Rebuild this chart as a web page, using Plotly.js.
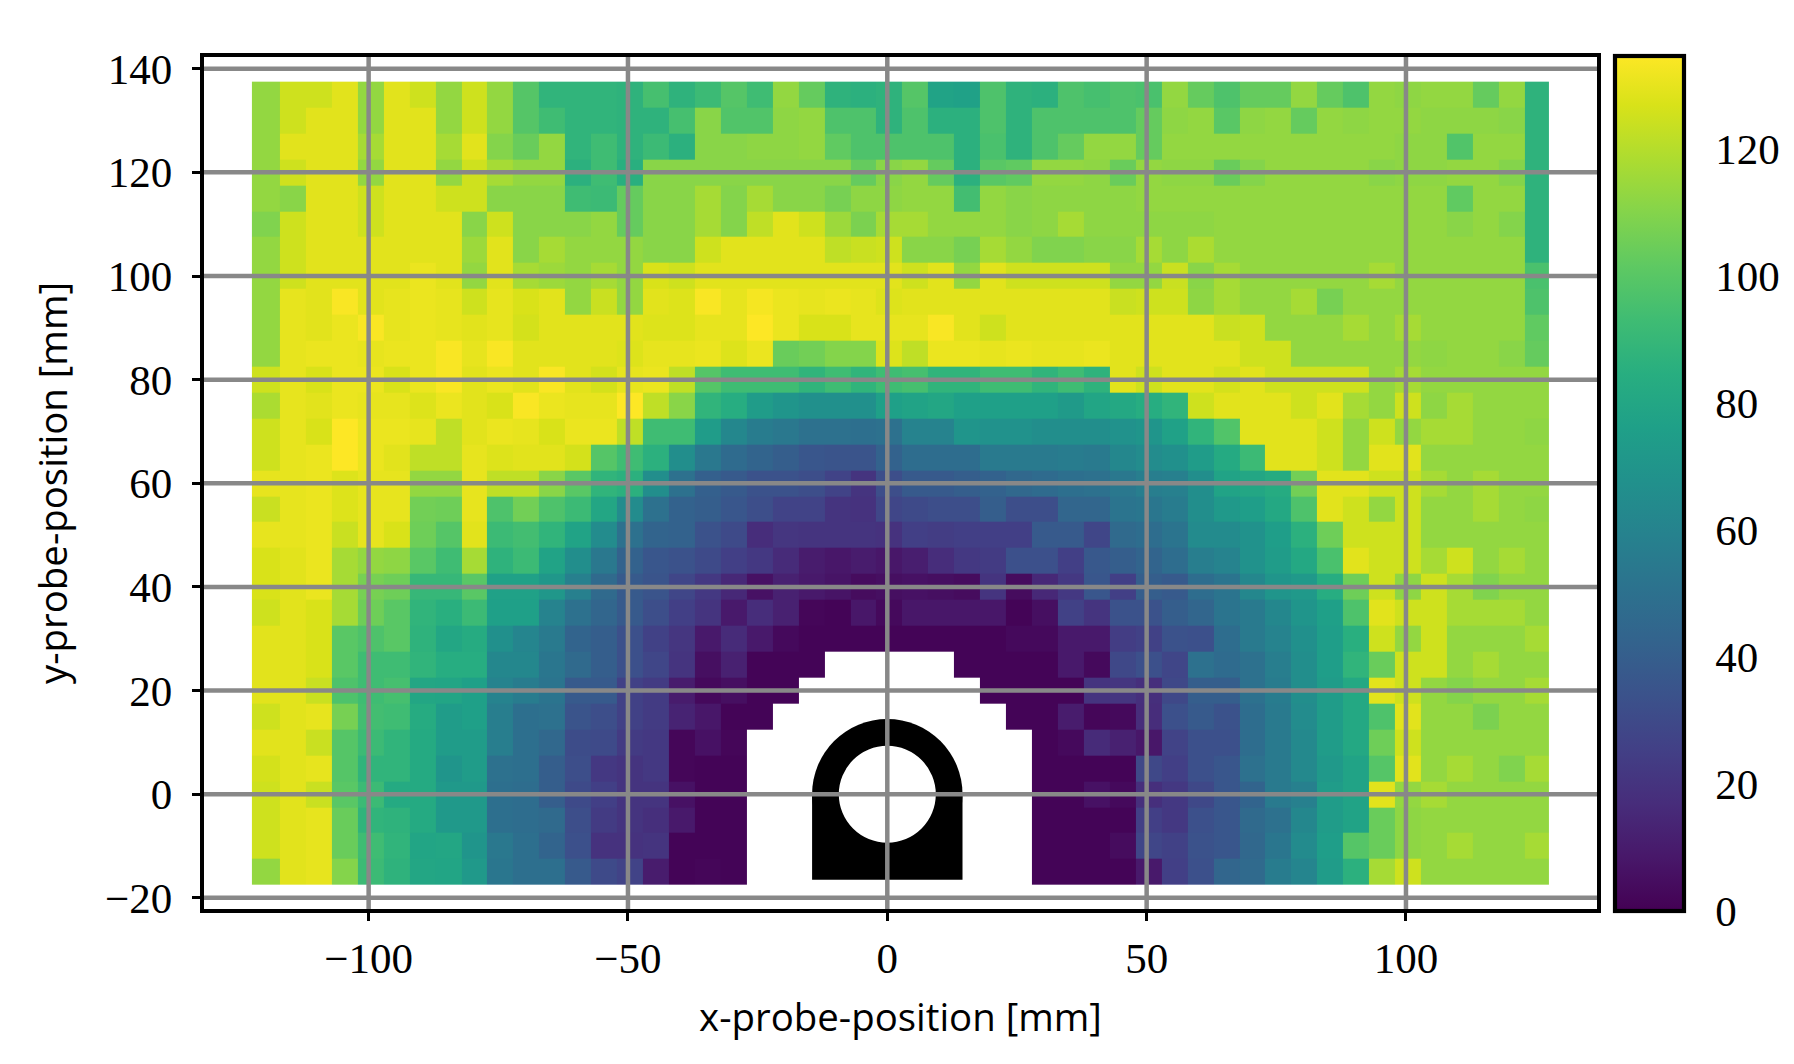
<!DOCTYPE html>
<html><head><meta charset="utf-8">
<script src="https://cdn.plot.ly/plotly-3.0.1.min.js"></script>
<style>html,body{margin:0;padding:0;background:#fff}#plot{width:1794px;height:1064px}</style>
</head><body><div id="plot"></div>
<script>
const _ = null;
const xEdges = [-122.5].concat(Array.from({length:49},(v,i)=>-117.1+5*i),[127.6]);
const yCenters = [135,130,125,120,115,110,105,100,95,90,85,80,75,70,65,60,55,50,45,40,35,30,25,20,15,10,5,0,-5,-10,-15];
const z = [
[113,125,125,129,113,129,125,113,125,113,99,88,88,88,87,95,87,92,99,93,113,103,87,86,87,99,78,77,97,87,86,97,95,97,96,113,103,97,103,103,113,103,97,113,112,113,113,103,113,87],
[113,125,129,129,113,129,129,113,125,113,99,93,88,88,87,87,95,111,98,98,112,113,97,97,87,97,86,86,97,87,97,97,97,97,103,112,113,100,112,113,103,113,112,113,113,112,112,112,111,87],
[113,129,129,129,117,129,129,117,129,110,104,113,88,93,87,92,86,111,111,112,112,113,102,97,97,97,97,86,96,87,97,103,113,113,103,113,113,113,113,113,113,113,113,113,112,112,98,113,113,87],
[113,125,129,129,113,129,129,113,125,117,113,113,86,93,85,111,111,111,111,111,111,111,111,103,111,113,103,86,100,102,113,113,112,104,113,112,112,104,110,113,113,113,113,111,112,112,113,113,110,87],
[113,111,129,129,125,129,129,125,125,111,111,111,93,92,103,111,111,117,110,117,111,111,107,112,112,113,113,94,113,111,112,112,112,112,113,113,113,113,113,113,113,113,113,113,113,113,102,113,113,87],
[109,125,129,129,125,129,129,129,111,125,111,111,111,113,103,111,111,117,110,122,129,125,115,108,117,117,113,113,113,111,112,117,112,112,112,112,112,113,113,113,113,113,113,113,113,113,111,113,110,87],
[113,125,129,129,129,129,129,129,115,129,111,117,113,113,113,111,111,125,129,129,129,129,122,124,125,111,111,107,117,113,109,109,111,111,117,112,118,113,113,113,113,113,113,113,113,113,113,113,113,87],
[113,125,129,129,129,129,131,129,113,129,117,115,113,117,113,127,125,129,129,129,129,129,129,129,129,125,129,113,129,125,125,125,125,113,113,124,111,117,113,113,113,113,113,117,113,113,113,113,113,96],
[113,130,129,134,129,130,131,130,125,130,127,129,113,124,113,129,128,134,130,133,131,130,131,130,128,129,129,129,129,129,129,129,129,124,125,125,112,117,113,113,117,107,113,113,113,113,113,113,113,97],
[113,130,129,131,134,130,131,130,129,130,126,129,129,129,129,128,128,130,130,135,131,127,127,130,130,130,134,129,125,129,129,129,129,129,129,129,129,124,125,113,113,113,117,113,117,113,113,113,113,102],
[113,130,131,131,130,131,131,134,130,134,129,129,129,129,128,130,130,131,128,131,104,106,110,110,128,122,131,131,130,131,130,130,131,129,129,129,129,129,125,125,113,113,113,113,113,112,113,113,111,103],
[125,130,127,131,131,127,131,134,129,131,129,134,129,126,130,131,122,99,93,93,93,88,93,88,93,95,88,88,93,93,88,93,87,129,125,129,129,126,129,125,125,125,125,113,117,113,113,113,113,113],
[118,130,129,131,130,130,128,131,129,127,134,131,130,130,135,122,111,88,84,74,70,67,67,67,76,78,80,76,76,76,76,73,79,81,84,88,125,129,129,129,125,129,117,113,125,112,117,113,113,113],
[125,130,127,135,131,131,130,122,129,131,130,127,131,131,122,93,93,74,62,56,54,50,50,49,50,60,60,70,68,68,66,66,66,68,70,77,88,98,129,129,129,125,113,125,113,117,117,113,113,112],
[125,130,131,135,131,129,122,122,130,128,129,129,126,99,93,86,66,54,47,43,40,36,35,35,42,48,48,48,55,55,55,56,55,62,65,67,74,82,92,129,129,125,113,129,129,113,113,113,113,113],
[130,130,131,128,130,130,113,113,130,122,122,111,100,88,86,66,50,41,38,34,34,32,27,20,32,38,38,40,42,45,47,49,50,54,57,58,66,78,80,83,106,129,129,125,125,117,113,117,113,113],
[124,130,131,128,130,130,106,105,130,97,106,97,92,80,65,50,42,40,36,32,27,27,20,19,28,30,32,32,40,32,32,44,44,52,53,56,66,72,75,81,97,129,125,113,125,113,113,117,113,112],
[130,130,131,124,130,127,105,99,129,92,94,88,78,65,50,43,42,34,30,17,21,20,20,20,19,25,24,25,25,25,38,38,28,46,48,52,64,64,68,75,86,105,125,125,125,113,113,113,113,113],
[127,129,131,117,113,112,100,93,117,87,92,78,66,54,42,36,34,30,25,22,16,10,8,10,8,11,17,22,23,33,33,25,37,40,43,48,57,60,68,74,81,96,129,125,125,117,125,113,117,113],
[127,129,131,117,107,105,90,90,100,77,77,71,58,46,38,35,28,22,15,6,12,9,7,4,5,6,5,4,20,4,15,22,36,25,40,38,48,52,62,70,72,84,105,125,112,125,117,109,113,113],
[125,129,127,117,105,100,88,85,92,76,76,60,50,44,38,32,25,20,9,17,12,2,1,8,3,8,8,8,8,1,5,26,20,34,34,40,44,52,55,62,70,76,97,129,125,125,117,117,117,113],
[129,129,127,100,97,100,87,80,83,67,61,55,43,40,33,26,21,9,16,9,3,1,1,1,1,1,1,1,1,3,3,9,9,24,26,34,33,48,55,60,67,75,85,125,113,125,113,113,113,117],
[129,129,127,100,93,93,88,84,84,62,62,53,46,40,33,28,20,5,12,1,1,1,_,_,_,_,_,1,1,1,1,9,3,29,33,28,50,47,50,57,66,75,88,104,125,125,113,117,113,113],
[129,129,124,97,93,95,80,79,76,60,56,52,38,38,26,23,10,3,5,1,1,_,_,_,_,_,_,_,1,1,1,1,20,21,18,29,40,40,50,56,66,74,81,129,125,113,110,113,113,117],
[125,129,130,107,94,93,83,74,76,57,49,50,35,32,26,23,13,8,1,1,_,_,_,_,_,_,_,_,_,1,1,10,2,3,17,33,38,34,48,55,65,74,81,97,129,113,113,108,113,113],
[129,129,124,99,92,88,82,74,74,57,49,45,31,30,23,22,2,6,2,_,_,_,_,_,_,_,_,_,_,_,1,3,16,12,8,27,33,33,48,55,63,74,81,105,125,113,113,113,113,113],
[126,129,130,99,88,88,82,70,74,50,49,40,32,22,20,22,2,1,1,_,_,_,_,_,_,_,_,_,_,_,1,1,1,1,29,25,33,36,50,55,63,72,78,99,129,113,117,113,109,117],
[125,129,124,100,92,82,82,72,72,49,48,40,30,25,20,20,6,1,1,_,_,_,_,_,_,_,_,_,_,_,1,1,6,3,18,22,29,36,43,55,58,74,78,129,113,117,113,113,113,113],
[125,129,130,104,88,87,82,72,72,49,48,46,32,23,20,18,9,1,1,_,_,_,_,_,_,_,_,_,_,_,1,1,1,1,25,22,33,36,46,50,62,74,78,104,112,113,113,113,113,113],
[125,129,130,104,93,88,79,80,70,54,49,43,33,19,19,20,1,1,1,_,_,_,_,_,_,_,_,_,_,_,1,1,1,4,28,26,34,36,45,53,64,75,99,104,112,113,117,113,113,117],
[113,129,130,110,92,87,80,79,72,53,49,49,38,30,27,10,1,2,1,_,_,_,_,_,_,_,_,_,_,_,1,1,1,1,9,25,33,44,46,56,61,74,86,117,125,113,113,113,113,113]
];
const xTicks = [-100,-50,0,50,100];
const yTicks = [-20,0,20,40,60,80,100,120,140];
const cbTicks = [0,20,40,60,80,100,120];
const zMax = 134.8;
const probeHalfWidth = 14.5, probeBottom = -16.5, boreRadius = 9.35;

const numFont = {family:'"Liberation Serif", serif', size:43, color:'#000'};
const labelFont = {family:'"Open Sans", sans-serif', size:38.4, color:'#000'};
const gridColor = '#888888', gridWidth = 4.5;

const shapes = [
  {type:'circle',xref:'x',yref:'y',x0:-probeHalfWidth,x1:probeHalfWidth,y0:-probeHalfWidth,y1:probeHalfWidth,fillcolor:'#000',line:{width:0},layer:'above'},
  {type:'rect',xref:'x',yref:'y',x0:-probeHalfWidth,x1:probeHalfWidth,y0:probeBottom,y1:0,fillcolor:'#000',line:{width:0},layer:'above'},
  {type:'circle',xref:'x',yref:'y',x0:-boreRadius,x1:boreRadius,y0:-boreRadius,y1:boreRadius,fillcolor:'#fff',line:{width:0},layer:'above'}
];
xTicks.forEach(t=>shapes.push({type:'line',xref:'x',yref:'paper',x0:t,x1:t,y0:0,y1:1,line:{color:gridColor,width:gridWidth},layer:'above'}));
yTicks.forEach(t=>shapes.push({type:'line',xref:'paper',yref:'y',x0:0,x1:1,y0:t,y1:t,line:{color:gridColor,width:gridWidth},layer:'above'}));

const data = [{
  type:'heatmap', x:xEdges, y:yCenters, z:z, zmin:0, zmax:zMax,
  colorscale:'Viridis', hoverongaps:false,
  colorbar:{
    x:1.0128, xanchor:'left', xpad:0, y:0.5, yanchor:'middle', ypad:0,
    len:1.003, lenmode:'fraction', thickness:69, thicknessmode:'pixels',
    outlinewidth:4.2, outlinecolor:'#000',
    tickmode:'array', tickvals:cbTicks, ticktext:cbTicks.map(String),
    ticks:'outside', ticklen:21, tickwidth:1, tickcolor:'rgba(0,0,0,0)', tickfont:numFont
  }
}];
const layout = {
  width:1794, height:1064,
  paper_bgcolor:'#fff', plot_bgcolor:'#fff',
  margin:{l:204.25,r:197.25,t:56.75,b:154.75,pad:0,autoexpand:false},
  showlegend:false,
  xaxis:{range:[-131.74,136.83],tickmode:'array',tickvals:xTicks,ticktext:xTicks.map(v=>v<0?'\u2212'+(-v):String(v)),
    showgrid:false,zeroline:false,showline:true,mirror:true,linewidth:4.2,linecolor:'#000',
    ticks:'outside',ticklen:8,tickwidth:3,tickcolor:'#000',tickfont:numFont,
    title:{text:'x-probe-position [mm]',font:labelFont,standoff:24},automargin:false},
  yaxis:{range:[-22.15,142.26],tickmode:'array',tickvals:yTicks,ticktext:yTicks.map(v=>v<0?'\u2212'+(-v):String(v)),
    showgrid:false,zeroline:false,showline:true,mirror:true,linewidth:4.2,linecolor:'#000',
    ticks:'outside',ticklen:8,tickwidth:3,tickcolor:'#000',tickfont:numFont,ticklabelstandoff:11,
    title:{text:'y-probe-position [mm]',font:labelFont,standoff:27},automargin:false},
  shapes:shapes
};
Plotly.newPlot('plot',data,layout,{displayModeBar:false,responsive:false});
</script></body></html>
